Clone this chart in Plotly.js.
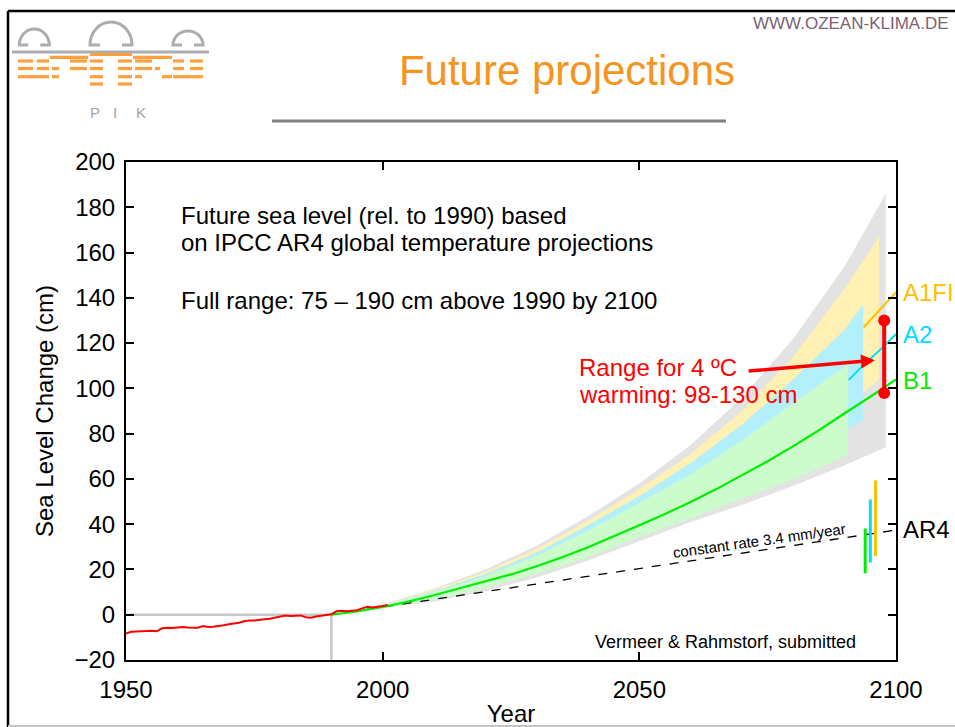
<!DOCTYPE html>
<html><head><meta charset="utf-8">
<script src="https://cdn.plot.ly/plotly-3.0.1.min.js"></script>
<style>html,body{margin:0;padding:0;background:#fff;} #chart{width:955px;height:727px;}</style>
</head><body><div id="chart"></div>
<script>
// ---------------- DATA ----------------
const xTicks = [1950, 2000, 2050, 2100];
const obsYears = [1950,1951,1952,1953,1954,1955,1956,1957,1958,1959,1960,1961,1962,1963,1964,1965,1966,1967,1968,1969,1970,1971,1972,1973,1974,1975,1976,1977,1978,1979,1980,1981,1982,1983,1984,1985,1986,1987,1988,1989,1990,1991,1992,1993,1994,1995,1996,1997,1998,1999,2000,2001];
const obsValues = [-8.3,-7.5,-7.4,-7.2,-7.0,-7.1,-7.3,-6.0,-5.8,-5.9,-5.6,-5.4,-5.6,-5.8,-5.7,-5.0,-5.4,-5.3,-5.1,-4.6,-4.2,-3.9,-3.5,-2.9,-2.5,-2.6,-2.2,-2.0,-1.8,-1.4,-0.9,-0.3,-0.6,-0.4,-0.3,-1.1,-1.3,-0.8,-0.4,-0.2,0.2,1.5,1.8,1.5,1.6,2.0,2.8,3.5,3.2,3.4,3.9,4.3];
const b1Years = [1990,1995,2000,2005,2010,2015,2020,2025,2030,2035,2040,2045,2050,2055,2060,2065,2070,2075,2080,2085,2090,2095,2100];
const b1Values = [0,1.5,3.4,5.8,8.6,11.6,14.6,17.8,21.4,25.4,29.8,34.5,39.5,44.5,49.8,55.5,61.5,67.8,74.5,81.5,89,96.3,104];
const rateYears = [1990, 2100];
const rateValues = [0, 37.4];
const refYears = [1950, 1990, 1990];
const refValues = [0, 0, -20];

const fullYears = [1990,2000,2010,2020,2030,2040,2050,2060,2070,2080,2090,2098];
const fullUpper = [0,4.5,11.5,20,30.5,43.5,58,75,96,122,154,186];
const fullLower = [0,2.8,5.8,10.5,16.5,24,32.5,41,48.5,57,66,74];
const a1fiYears = [1990,2000,2010,2020,2030,2040,2050,2060,2070,2080,2090,2096.7];
const a1fiUpper = [0,4.3,11,19,29,41.5,55.5,71,90,114,144,167];
const a1fiLower = [0,3.4,8,14,21.5,30.5,40.5,50.5,61.5,74,91,104];
const a2Years = [1990,2000,2010,2020,2030,2040,2050,2060,2070,2080,2090,2093.6];
const a2Upper = [0,4.1,10.4,18,27.5,39.5,52.5,67,84,104,126,137];
const a2Lower = [0,3.2,7.5,13,20,28.5,38,47,57,68,81,86];
const b1BandYears = [1990,2000,2010,2020,2030,2040,2050,2060,2070,2080,2090,2090.7];
const b1Upper = [0,3.9,9.8,17,26,37,49.5,62,77,93.5,109.5,111];
const b1Lower = [0,3,6.6,11.8,18,25.5,34.5,42.5,51.5,60,70,70.7];

const a1fiLineYears = [2093.7, 2100];
const a1fiLineValues = [127, 142.5];
const a2LineYears = [2090.8, 2094.3, 2096.9, 2100];
const a2LineValues = [103.7, 111.7, 117, 124];
const ar4Years = [2094, 2095, 2096];
const ar4Low = [18.3, 23.1, 26];
const ar4High = [38.1, 50.9, 59.3];
const warmYears = [2097.7, 2097.7];
const warmValues = [98, 130];

// ---------------- STYLE ----------------
const FONT = 'Liberation Sans, Arial, Helvetica, sans-serif';
const ar4Colors = ['#00EE00', '#00DDFF', '#FFC000'];

function band(years, upper, lower, color) {
  return {x: years.concat(years.slice().reverse()), y: upper.concat(lower.slice().reverse()),
    type: 'scatter', mode: 'lines', fill: 'toself', fillcolor: color, line: {width: 0}, hoverinfo: 'skip'};
}

const traces = [
  band(fullYears, fullUpper, fullLower, '#E3E3E3'),
  band(a1fiYears, a1fiUpper, a1fiLower, '#FFF0B3'),
  band(a2Years, a2Upper, a2Lower, '#B3F0FC'),
  band(b1BandYears, b1Upper, b1Lower, '#CCFCCC'),
  {x: refYears, y: refValues, mode: 'lines', line: {color: '#C8C8C8', width: 2.5}},
  {x: rateYears, y: rateValues, mode: 'lines', line: {color: '#000', width: 1.3, dash: 'dash'}},
  {x: b1Years, y: b1Values, mode: 'lines', line: {color: '#00EE00', width: 2.2}},
  {x: obsYears, y: obsValues, mode: 'lines', line: {color: '#FF0000', width: 2}},
  {x: a2LineYears, y: a2LineValues, mode: 'lines', line: {color: '#00DDFF', width: 2, shape: 'spline'}},
  {x: a1fiLineYears, y: a1fiLineValues, mode: 'lines', line: {color: '#FFC000', width: 2}},
];
ar4Years.forEach((yr, i) => {
  traces.push({x: [yr, yr], y: [ar4Low[i], ar4High[i]], mode: 'lines', line: {color: ar4Colors[i], width: 3}});
});
traces.push({x: warmYears, y: warmValues, mode: 'lines+markers', line: {color: '#FF0000', width: 4},
  marker: {color: '#FF0000', size: 12}});

// pixel -> paper helpers for slide decoration
const L = 126, T = 162, W = 770, H = 498;
const px = x => (x - L) / W;
const py = y => (T + H - y) / H;
const P = (x, y) => px(x).toFixed(5) + ',' + py(y).toFixed(5);

function lineShape(x0, y0, x1, y1, color, width) {
  return {type: 'line', xref: 'paper', yref: 'paper', x0: px(x0), y0: py(y0), x1: px(x1), y1: py(y1),
    line: {color: color, width: width}, layer: 'above'};
}
function archPath(cx, r, by, h, f) {
  const k = 0.5523;
  return 'M ' + P(cx - r + f, by) + ' L ' + P(cx - r, by) +
    ' C ' + P(cx - r, by - k * h) + ' ' + P(cx - k * r, by - h) + ' ' + P(cx, by - h) +
    ' C ' + P(cx + k * r, by - h) + ' ' + P(cx + r, by - k * h) + ' ' + P(cx + r, by) +
    ' L ' + P(cx + r - f, by);
}
const logoGray = '#AAAEB2', logoOrange = '#FFA040';
const shapes = [
  lineShape(8, 11, 955, 11, '#000', 2.5),
  lineShape(8, 11, 8, 727, '#000', 2.5),
  lineShape(8, 726, 955, 726, '#C4C4C4', 2),
  lineShape(272, 121, 726, 121, '#808080', 3),
  lineShape(12, 52, 209, 52, logoGray, 3),
];
[[34.3, 15, 45, 16, 9], [111, 21, 45, 23, 10], [188, 15, 45, 14, 9]].forEach(a => {
  shapes.push({type: 'path', xref: 'paper', yref: 'paper', path: archPath(...a), line: {color: logoGray, width: 3}});
});
const dashRows = [
  [54.5, [[90, 132]]],
  [57.3, [[50, 88], [133, 172]]],
  [61, [[18, 33], [37, 49], [70, 87], [90, 103], [118, 132], [135, 152], [173, 184], [190, 203]]],
  [68.5, [[18, 33], [37, 49], [52, 59], [70, 87], [90, 103], [118, 132], [135, 152], [155, 160], [173, 184], [190, 203]]],
  [76.7, [[18, 49], [52, 59], [90, 103], [118, 132], [135, 142], [162, 172], [173, 203]]],
  [84, [[90, 103], [118, 132]]],
];
dashRows.forEach(([y, segs]) => segs.forEach(([a, b]) => shapes.push(lineShape(a, y, b, y, logoOrange, 3.2))));

function ann(text, x, y, opts) {
  return Object.assign({text: text, x: x, y: y, xref: 'x', yref: 'y', showarrow: false,
    xanchor: 'left', yanchor: 'middle', font: {family: FONT, size: 24, color: '#000'}}, opts || {});
}
const annotations = [
  ann('Future sea level (rel. to 1990) based', 1960.3, 176.5),
  ann('on IPCC AR4 global temperature projections', 1960.3, 164.3),
  ann('Full range: 75 \u2013 190 cm above 1990 by 2100', 1960.3, 138.8),
  ann('Range for 4 \u00baC', 2037.8, 109.4, {font: {family: FONT, size: 24, color: '#FF0000'}}),
  ann('warming: 98-130 cm', 2037.8, 97.1, {font: {family: FONT, size: 24, color: '#FF0000'}}),
  ann('Vermeer &amp; Rahmstorf, submitted', 2092.6, -11.9, {xanchor: 'right', font: {family: FONT, size: 18, color: '#000'}}),
  ann('constant rate 3.4 mm/year', 2073.3, 33, {xanchor: 'center', textangle: -8, font: {family: FONT, size: 15, color: '#000'}}),
  ann('A1FI', 1.007, 142.3, {xref: 'paper', font: {family: FONT, size: 24, color: '#FFC000'}}),
  ann('A2', 1.007, 123.8, {xref: 'paper', font: {family: FONT, size: 24, color: '#00DDFF'}}),
  ann('B1', 1.007, 103.6, {xref: 'paper', font: {family: FONT, size: 24, color: '#00EE00'}}),
  ann('AR4', 1.007, 37.8, {xref: 'paper', font: {family: FONT, size: 24, color: '#000'}}),
  {text: '', x: 2095.9, y: 112.4, ax: 2071, ay: 107.6, axref: 'x', ayref: 'y', xref: 'x', yref: 'y',
    showarrow: true, arrowcolor: '#FF0000', arrowwidth: 3.5, arrowhead: 2, arrowsize: 0.8},
  {text: 'WWW.OZEAN-KLIMA.DE', x: px(951), y: py(23), xref: 'paper', yref: 'paper', xanchor: 'right', yanchor: 'middle',
    showarrow: false, font: {family: FONT, size: 17, color: '#7E5F74'}},
  {text: 'P', x: px(88), y: py(102), xref: 'paper', yref: 'paper', showarrow: false, font: {family: FONT, size: 15, color: '#A0A4A8'}},
  {text: 'I', x: px(111), y: py(102), xref: 'paper', yref: 'paper', showarrow: false, font: {family: FONT, size: 15, color: '#A0A4A8'}},
  {text: 'K', x: px(134), y: py(102), xref: 'paper', yref: 'paper', showarrow: false, font: {family: FONT, size: 15, color: '#A0A4A8'}},
];

const axisCommon = {
  showline: true, linecolor: '#000', linewidth: 2, mirror: 'allticks',
  ticks: 'inside', ticklen: 8, tickwidth: 2, tickcolor: '#000',
  showgrid: false, zeroline: false, automargin: false,
  tickfont: {family: FONT, size: 24, color: '#000'}
};
const layout = {
  width: 955, height: 727,
  margin: {l: L, r: 955 - L - W, t: T, b: 727 - T - H, pad: 0},
  paper_bgcolor: '#fff', plot_bgcolor: '#fff', showlegend: false,
  title: {text: 'Future projections', x: 567 / 955, xanchor: 'center', xref: 'container',
    y: 1 - 70 / 727, yanchor: 'middle', yref: 'container', font: {family: FONT, size: 42, color: '#F7941D'}},
  xaxis: Object.assign({}, axisCommon, {range: [1950, 2100], tickvals: xTicks, ticklabelstandoff: 7,
    title: {text: 'Year', standoff: 10, font: {family: FONT, size: 24, color: '#000'}}}),
  yaxis: Object.assign({}, axisCommon, {range: [-20, 200], dtick: 20, ticklabelstandoff: 4,
    title: {text: 'Sea Level Change (cm)', standoff: 14, font: {family: FONT, size: 24, color: '#000'}}}),
  shapes: shapes,
  annotations: annotations
};
Plotly.newPlot('chart', traces, layout, {displayModeBar: false, staticPlot: true});
</script></body></html>
